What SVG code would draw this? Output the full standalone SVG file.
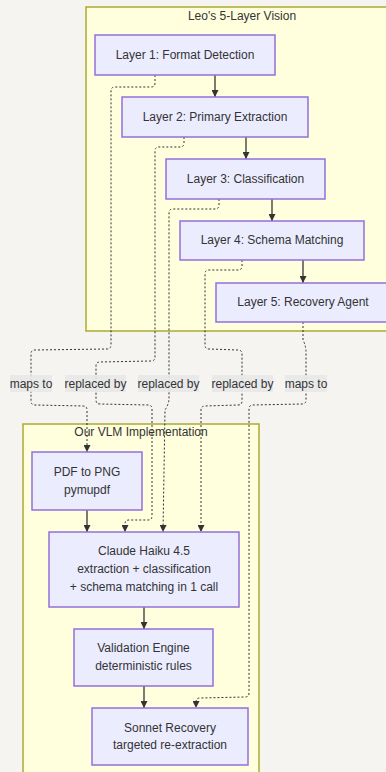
<svg xmlns="http://www.w3.org/2000/svg" width="386" height="772" viewBox="0 0 386 772">
  <defs>
    <style>
      .bg { fill: #f5f4f0; }
      .cluster { fill: #ffffde; stroke: #aaaa33; stroke-width: 1.5; }
      .node rect { fill: #ececff; stroke: #9370db; stroke-width: 1.5; }
      text { font-family: "Liberation Sans", Arial, sans-serif; font-size: 12px; fill: #333; text-anchor: middle; }
      .flow { fill: none; stroke: #333; stroke-width: 1.3; }
      .dotted { fill: none; stroke: #333; stroke-width: 1; stroke-dasharray: 2 2; }
      .lbl rect { fill: #e8e8e8; opacity: 0.9; }
    </style>
    <marker id="arrow" viewBox="0 0 10 10" refX="10" refY="5" markerWidth="7" markerHeight="7" markerUnits="userSpaceOnUse" orient="auto">
      <path d="M0,0 L10,5 L0,10 z" fill="#333"/>
    </marker>
  </defs>

  <rect class="bg" x="0" y="0" width="386" height="772"/>

  <!-- clusters -->
  <g id="cluster-vision">
    <rect class="cluster" x="86" y="7" width="312" height="324"/>
    <text x="242" y="20">Leo's 5-Layer Vision</text>
  </g>
  <g id="cluster-vlm">
    <rect class="cluster" x="23" y="424" width="236" height="360"/>
    <text x="141" y="436">Our VLM Implementation</text>
  </g>

  <!-- connectors -->
  <g id="connectors">
    <!-- solid flow -->
    <path class="flow" d="M215,75 L215,97" marker-end="url(#arrow)"/>
    <path class="flow" d="M246,137 L246,159" marker-end="url(#arrow)"/>
    <path class="flow" d="M272,199 L272,221" marker-end="url(#arrow)"/>
    <path class="flow" d="M303,260 L303,283" marker-end="url(#arrow)"/>
    <path class="flow" d="M87,510 L87,532" marker-end="url(#arrow)"/>
    <path class="flow" d="M144,607 L144,629" marker-end="url(#arrow)"/>
    <path class="flow" d="M144,686 L144,708" marker-end="url(#arrow)"/>

    <!-- dotted mappings -->
    <path class="dotted" d="M155,75 L155,83 Q155,87 151,87 L115,87 Q111,87 111,91 L111,345 Q111,349 107,349 L35,350 Q31,350 31,354 L31,401 Q31,405 35,405 L83,406 Q87,406 87,410 L87,452" marker-end="url(#arrow)"/>
    <path class="dotted" d="M184,137 L184,143 Q184,147 180,147 L159,147 Q155,147 155,151 L155,357 Q155,361 151,361 L100,362 Q96,362 96,366 L96,400 Q96,404 100,404 L148,405 Q152,405 152,409 L152,516 Q152,520 148,520 L129,520 Q125,520 125,524 L125,532" marker-end="url(#arrow)"/>
    <path class="dotted" d="M219,199 L219,205 Q219,209 215,209 L173,209 Q169,209 169,213 L169,398 Q169,404 165,410 L163,532" marker-end="url(#arrow)"/>
    <path class="dotted" d="M242,260 L242,266 Q242,270 238,270 L209,270 Q205,270 205,274 L205,345 Q205,349 209,349 L238,350 Q242,350 242,354 L242,401 Q242,405 238,405 L205,406 Q201,406 201,410 L201,532" marker-end="url(#arrow)"/>
    <path class="dotted" d="M303,322 L303,340 Q306,346 306,352 L306,400 Q306,404 302,404 L253,405 Q249,405 249,409 L249,693 Q249,697 245,697 L200,698 Q196,698 196,702 L196,708" marker-end="url(#arrow)"/>
  </g>

  <!-- edge labels -->
  <g id="labels">
    <g class="lbl"><rect x="10" y="375" width="42" height="17"/><text x="31" y="388">maps to</text></g>
    <g class="lbl"><rect x="65" y="375" width="61" height="17"/><text x="95.5" y="388">replaced by</text></g>
    <g class="lbl"><rect x="138" y="375" width="61" height="17"/><text x="168.5" y="388">replaced by</text></g>
    <g class="lbl"><rect x="212" y="375" width="61" height="17"/><text x="242.5" y="388">replaced by</text></g>
    <g class="lbl"><rect x="285" y="375" width="42" height="17"/><text x="306" y="388">maps to</text></g>
  </g>

  <!-- vision layers -->
  <g id="layer1" class="node">
    <rect x="95" y="35" width="180" height="40"/>
    <text x="185" y="59">Layer 1: Format Detection</text>
  </g>
  <g id="layer2" class="node">
    <rect x="122" y="97" width="186" height="40"/>
    <text x="215" y="121">Layer 2: Primary Extraction</text>
  </g>
  <g id="layer3" class="node">
    <rect x="166" y="159" width="159" height="40"/>
    <text x="245.5" y="183">Layer 3: Classification</text>
  </g>
  <g id="layer4" class="node">
    <rect x="180" y="221" width="184" height="39"/>
    <text x="272" y="244">Layer 4: Schema Matching</text>
  </g>
  <g id="layer5" class="node">
    <rect x="216" y="283" width="184" height="39"/>
    <text x="303" y="306">Layer 5: Recovery Agent</text>
  </g>

  <!-- implementation steps -->
  <g id="pdf2png" class="node">
    <rect x="32" y="452" width="110" height="58"/>
    <text x="87" y="476">PDF to PNG</text>
    <text x="87" y="494">pymupdf</text>
  </g>
  <g id="haiku" class="node">
    <rect x="49" y="532" width="190" height="75"/>
    <text x="144" y="555">Claude Haiku 4.5</text>
    <text x="144" y="573">extraction + classification</text>
    <text x="144" y="591">+ schema matching in 1 call</text>
  </g>
  <g id="validation" class="node">
    <rect x="74" y="629" width="139" height="57"/>
    <text x="143.5" y="652">Validation Engine</text>
    <text x="143.5" y="670">deterministic rules</text>
  </g>
  <g id="sonnet" class="node">
    <rect x="92" y="708" width="156" height="57"/>
    <text x="170" y="732">Sonnet Recovery</text>
    <text x="170" y="749">targeted re-extraction</text>
  </g>
</svg>
